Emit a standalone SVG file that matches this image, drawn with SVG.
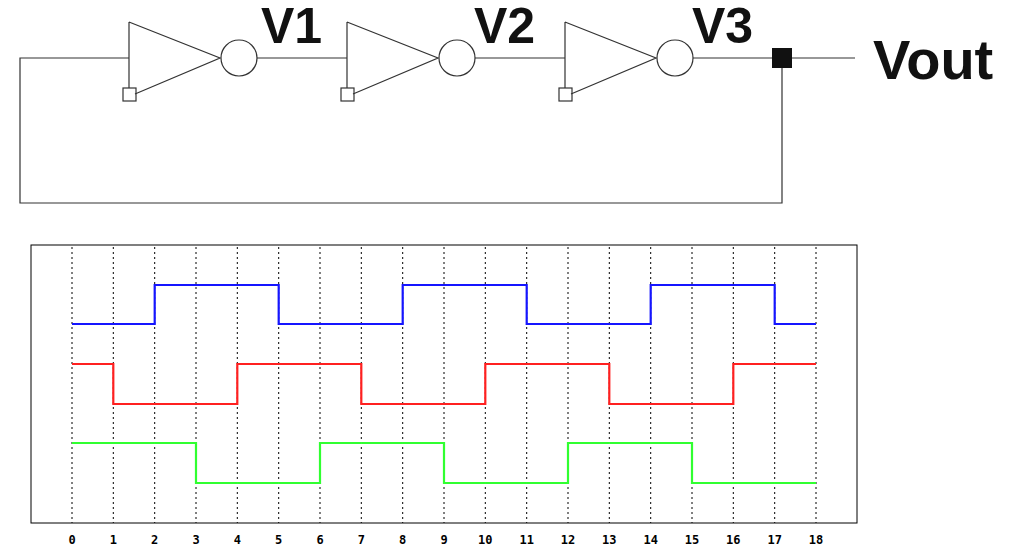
<svg xmlns="http://www.w3.org/2000/svg" width="1024" height="549" viewBox="0 0 1024 549">
<style>
.w{fill:none;stroke:#333;stroke-width:1.2}
.lbl{font-family:"Liberation Sans",Arial,sans-serif;font-weight:bold;fill:#111}
.g{stroke:#000;stroke-width:1;stroke-dasharray:2,3}
.t{font-family:"DejaVu Sans Mono",monospace;font-weight:bold;font-size:12px;text-anchor:middle}
.s{fill:none;stroke-width:2.2}
</style>
<defs>
<g id="inv" class="w">
<path d="M0,22 V88 M0,22 L91,58 L6,94"/>
<circle cx="110" cy="58" r="18" fill="#fff"/>
<rect x="-6" y="88" width="13" height="13"/>
</g>
</defs>
<g id="connectors" class="w">
<path d="M129,58 H20 V203 H782 V58"/>
<path d="M257,58 H347 M475,58 H565 M693,58 H855"/>
</g>
<g id="inv1"><use href="#inv" x="129"/></g>
<g id="inv2"><use href="#inv" x="347"/></g>
<g id="inv3"><use href="#inv" x="565"/></g>
<g id="vout-node"><rect x="772" y="48" width="20" height="20" fill="#111"/></g>
<text class="lbl" x="261" y="43" font-size="50">V1</text>
<text class="lbl" x="474" y="43" font-size="50">V2</text>
<text class="lbl" x="692" y="43" font-size="50">V3</text>
<text class="lbl" x="873" y="79" font-size="56">Vout</text>
<g id="chart">
<rect x="31" y="245" width="826" height="278" fill="none" stroke="#000" stroke-width="1"/>
<g class="g">
<path d="M72,247V523M113.3,247V523M154.7,247V523M196,247V523M237.3,247V523M278.7,247V523M320,247V523M361.3,247V523M402.7,247V523M444,247V523M485.3,247V523M526.7,247V523M568,247V523M609.3,247V523M650.7,247V523M692,247V523M733.3,247V523M774.7,247V523M816,247V523"/>
</g>
<g>
<text class="t" x="72" y="544">0</text><text class="t" x="113.3" y="544">1</text><text class="t" x="154.7" y="544">2</text><text class="t" x="196" y="544">3</text><text class="t" x="237.3" y="544">4</text><text class="t" x="278.7" y="544">5</text><text class="t" x="320" y="544">6</text><text class="t" x="361.3" y="544">7</text><text class="t" x="402.7" y="544">8</text><text class="t" x="444" y="544">9</text><text class="t" x="485.3" y="544">10</text><text class="t" x="526.7" y="544">11</text><text class="t" x="568" y="544">12</text><text class="t" x="609.3" y="544">13</text><text class="t" x="650.7" y="544">14</text><text class="t" x="692" y="544">15</text><text class="t" x="733.3" y="544">16</text><text class="t" x="774.7" y="544">17</text><text class="t" x="816" y="544">18</text>
</g>
<path class="s" stroke="#1515ff" d="M72,324H154.7V285H278.7V324H402.7V285H526.7V324H650.7V285H774.7V324H816"/>
<path class="s" stroke="#ff2020" d="M72,364H113.3V404H237.3V364H361.3V404H485.3V364H609.3V404H733.3V364H816"/>
<path class="s" stroke="#30ff30" d="M72,443H196V483H320V443H444V483H568V443H692V483H816"/>
</g>
</svg>
